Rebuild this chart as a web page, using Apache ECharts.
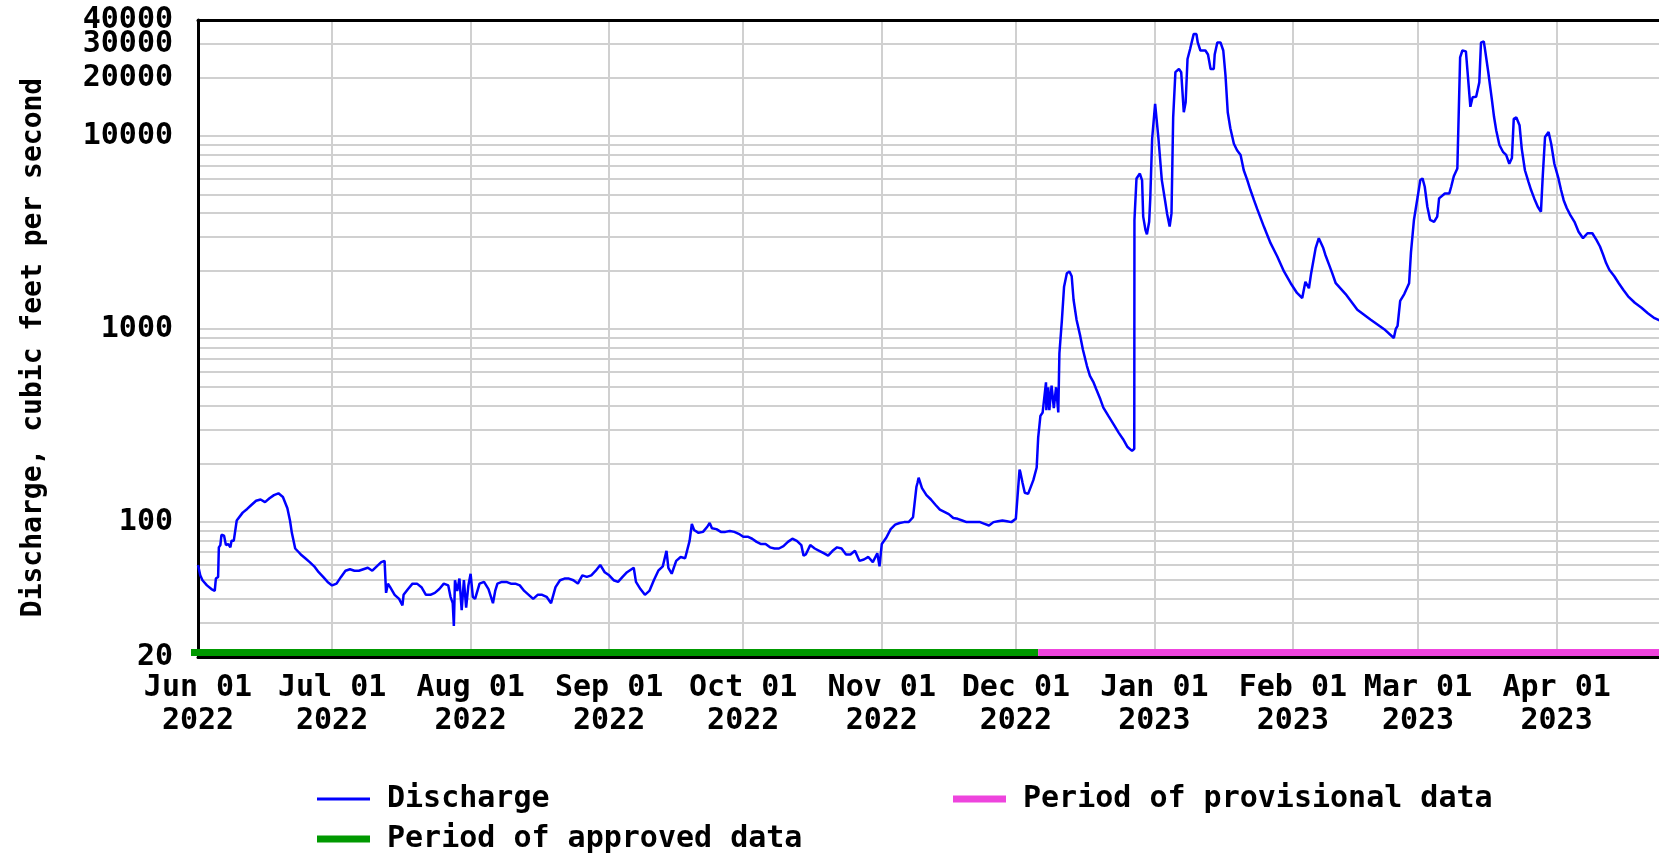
<!DOCTYPE html>
<html><head><meta charset="utf-8">
<script src="https://cdn.jsdelivr.net/npm/echarts@6/dist/echarts.min.js"></script>
<style>html,body{margin:0;padding:0;background:#fff}#chart{width:1659px;height:853px}</style>
</head><body><div id="chart"></div>
<script>
const dates = [
'2022-06-01 00:00','2022-06-01 12:00','2022-06-02','2022-06-03','2022-06-04','2022-06-04 18:00','2022-06-05 00:00','2022-06-05 12:00','2022-06-05 16:00','2022-06-06 00:00',
'2022-06-06 06:00','2022-06-06 20:00','2022-06-07 06:00','2022-06-07 18:00','2022-06-08 06:00','2022-06-08 12:00','2022-06-09 00:00','2022-06-09 16:00','2022-06-10','2022-06-11',
'2022-06-12','2022-06-13','2022-06-14','2022-06-15','2022-06-16','2022-06-17','2022-06-18','2022-06-19','2022-06-20','2022-06-21',
'2022-06-21 14:00','2022-06-22','2022-06-22 18:00','2022-06-23 12:00','2022-06-24','2022-06-25','2022-06-26','2022-06-27','2022-06-28','2022-06-29',
'2022-06-30','2022-07-01','2022-07-02','2022-07-03','2022-07-04','2022-07-05','2022-07-06','2022-07-07','2022-07-08','2022-07-09',
'2022-07-10','2022-07-11','2022-07-12','2022-07-12 18:00','2022-07-13 02:00','2022-07-13 12:00','2022-07-14','2022-07-15','2022-07-16','2022-07-16 18:00',
'2022-07-17','2022-07-18','2022-07-19','2022-07-20','2022-07-21','2022-07-22','2022-07-23','2022-07-24','2022-07-25','2022-07-26',
'2022-07-27','2022-07-27 12:00','2022-07-28','2022-07-28 06:00','2022-07-28 12:00','2022-07-29','2022-07-29 12:00','2022-07-30','2022-07-30 12:00','2022-07-31',
'2022-07-31 12:00','2022-08-01','2022-08-01 12:00','2022-08-02','2022-08-03','2022-08-04','2022-08-05','2022-08-06','2022-08-06 12:00','2022-08-07',
'2022-08-08','2022-08-09','2022-08-10','2022-08-11','2022-08-12','2022-08-13','2022-08-14','2022-08-15','2022-08-16','2022-08-17',
'2022-08-18','2022-08-19','2022-08-20','2022-08-21','2022-08-22','2022-08-23','2022-08-24','2022-08-25','2022-08-26','2022-08-27',
'2022-08-28','2022-08-29','2022-08-30','2022-08-31','2022-09-01','2022-09-02','2022-09-03','2022-09-04','2022-09-05','2022-09-06 12:00',
'2022-09-07','2022-09-08','2022-09-09','2022-09-10','2022-09-11','2022-09-12','2022-09-13','2022-09-13 20:00','2022-09-14 06:00','2022-09-15',
'2022-09-16','2022-09-17','2022-09-18','2022-09-19','2022-09-19 12:00','2022-09-20','2022-09-21','2022-09-22','2022-09-23','2022-09-23 12:00',
'2022-09-24','2022-09-25','2022-09-26','2022-09-27','2022-09-28','2022-09-29','2022-09-30','2022-10-01','2022-10-02','2022-10-03',
'2022-10-04','2022-10-05','2022-10-06','2022-10-07','2022-10-08','2022-10-09','2022-10-10','2022-10-11','2022-10-12','2022-10-13',
'2022-10-14','2022-10-14 12:00','2022-10-15','2022-10-16','2022-10-17','2022-10-18','2022-10-19','2022-10-20','2022-10-21','2022-10-22',
'2022-10-23','2022-10-24','2022-10-25','2022-10-26','2022-10-27','2022-10-28','2022-10-29','2022-10-30','2022-10-31','2022-10-31 12:00',
'2022-11-01','2022-11-02','2022-11-03','2022-11-04','2022-11-05','2022-11-06','2022-11-07','2022-11-08','2022-11-08 18:00','2022-11-09',
'2022-11-09 06:00','2022-11-10','2022-11-11','2022-11-12','2022-11-13','2022-11-14','2022-11-15','2022-11-16','2022-11-17','2022-11-18',
'2022-11-19','2022-11-20','2022-11-21','2022-11-22','2022-11-23','2022-11-24','2022-11-25','2022-11-26','2022-11-27','2022-11-28',
'2022-11-29','2022-11-30','2022-12-01','2022-12-01 20:00','2022-12-02','2022-12-02 12:00','2022-12-03','2022-12-03 18:00','2022-12-04 22:00','2022-12-05 16:00',
'2022-12-06','2022-12-06 12:00','2022-12-07','2022-12-07 18:00','2022-12-07 20:00','2022-12-08 06:00','2022-12-08 12:00','2022-12-09','2022-12-09 12:00','2022-12-10',
'2022-12-10 12:00','2022-12-10 18:00','2022-12-11 07:00','2022-12-11 19:00','2022-12-12 10:00','2022-12-13','2022-12-13 12:00','2022-12-13 22:00','2022-12-14 14:00','2022-12-15 10:00',
'2022-12-16','2022-12-16 22:00','2022-12-17 14:00','2022-12-18 10:00','2022-12-19','2022-12-19 22:00','2022-12-20 14:00','2022-12-21 17:00','2022-12-22 22:00','2022-12-24',
'2022-12-25','2022-12-26','2022-12-27','2022-12-27 12:00','2022-12-27 13:00','2022-12-28','2022-12-28 18:00','2022-12-29 06:00','2022-12-29 12:00','2022-12-30',
'2022-12-30 08:00','2022-12-30 20:00','2022-12-31 02:00','2022-12-31 12:00','2023-01-01 04:00','2023-01-01 10:00','2023-01-01 22:00','2023-01-02 06:00','2023-01-02 16:00','2023-01-03 10:00',
'2023-01-03 20:00','2023-01-04 10:00','2023-01-04 20:00','2023-01-05 05:00','2023-01-05 17:00','2023-01-06 12:00','2023-01-07','2023-01-07 14:00','2023-01-08','2023-01-08 10:00',
'2023-01-09','2023-01-09 19:00','2023-01-10 10:00','2023-01-10 17:00','2023-01-11 07:00','2023-01-12 10:00','2023-01-13','2023-01-13 14:00','2023-01-14 07:00','2023-01-14 12:00',
'2023-01-15 02:00','2023-01-15 19:00','2023-01-16 10:00','2023-01-16 22:00','2023-01-17 10:00','2023-01-18','2023-01-18 19:00','2023-01-19 12:00','2023-01-20 07:00','2023-01-21',
'2023-01-21 19:00','2023-01-22 12:00','2023-01-23 07:00','2023-01-24','2023-01-25 12:00','2023-01-27','2023-01-28 12:00','2023-01-30','2023-01-31 12:00','2023-02-01 22:00',
'2023-02-03 02:00','2023-02-03 19:00','2023-02-04 14:00','2023-02-05 02:00','2023-02-06 02:00','2023-02-06 19:00','2023-02-07 19:00','2023-02-08 06:00','2023-02-09 02:00','2023-02-09 19:00',
'2023-02-10 14:00','2023-02-12 19:00','2023-02-15 10:00','2023-02-18 10:00','2023-02-21 10:00','2023-02-23 14:00','2023-02-24','2023-02-24 10:00','2023-02-25','2023-02-25 22:00',
'2023-02-27','2023-02-27 10:00','2023-02-28 02:00','2023-02-28 22:00','2023-03-01 12:00','2023-03-02','2023-03-02 12:00','2023-03-03 02:00','2023-03-03 17:00','2023-03-04 14:00',
'2023-03-05 07:00','2023-03-05 17:00','2023-03-07','2023-03-08','2023-03-08 10:00','2023-03-09','2023-03-09 19:00','2023-03-10 10:00','2023-03-10 22:00','2023-03-11 17:00',
'2023-03-12 02:00','2023-03-12 17:00','2023-03-13 05:00','2023-03-14','2023-03-14 17:00','2023-03-15 02:00','2023-03-15 17:00','2023-03-16','2023-03-16 17:00','2023-03-17 12:00',
'2023-03-18','2023-03-18 12:00','2023-03-19 05:00','2023-03-20','2023-03-20 17:00','2023-03-21 10:00','2023-03-22','2023-03-22 10:00','2023-03-23','2023-03-23 17:00',
'2023-03-24 05:00','2023-03-24 22:00','2023-03-25 17:00','2023-03-26 07:00','2023-03-27','2023-03-27 19:00','2023-03-28 12:00','2023-03-28 22:00','2023-03-29 10:00','2023-03-30 05:00',
'2023-03-30 19:00','2023-03-31 12:00','2023-04-01 10:00','2023-04-02','2023-04-02 14:00','2023-04-03 07:00','2023-04-04 02:00','2023-04-05','2023-04-05 22:00','2023-04-06 22:00',
'2023-04-07 22:00','2023-04-09','2023-04-09 22:00','2023-04-10 17:00','2023-04-11 10:00','2023-04-12 02:00','2023-04-12 19:00','2023-04-13 22:00','2023-04-14 22:00','2023-04-15 22:00',
'2023-04-17','2023-04-18 12:00','2023-04-20','2023-04-21 10:00','2023-04-22 22:00','2023-04-24 10:00'
];
const discharge = [
60,53,50,47,45,44,51,52,74,76,
86,85,76,77,74,80,80,102,104,112,
117,123,129,131,127,133,138,141,135,118,
102,88,73,70,68,65,62,59,55,52,
49,47,48,52,56,57,56,56,57,58,
56,59,62,63,43,48,46,42,40,37,
42,45,48,48,46,42,42,43,45,48,
47,41,38,29,50,44,51,35,50,36,
47,54,41,40,48,49,45,38,44,48,
49,49,48,48,47,44,42,40,42,42,
41,38,46,50,51,51,50,48,53,52,
53,56,60,55,53,50,49,52,55,58,
49,45,42,44,50,56,59,71,58,54,
63,66,65,80,98,91,88,89,95,99,
93,92,89,89,90,89,87,84,84,82,
79,77,77,74,73,73,75,79,82,80,
76,67,68,76,73,71,69,67,71,74,
73,68,68,71,63,64,66,62,69,59,
77,83,92,97,99,100,100,106,152,160,
170,150,138,131,123,116,113,110,105,104,
102,100,100,100,100,98,96,100,101,102,
101,100,104,187,182,160,142,140,165,192,
274,355,370,530,380,500,380,510,390,500,
370,750,1100,1660,1950,1990,1880,1420,1120,920,
784,644,572,528,488,433,392,355,320,291,
269,245,234,240,3680,6040,6400,5900,3830,3270,
3100,3600,4760,9700,14700,14700,9700,9500,5920,4600,
3980,3400,3980,12560,21460,22300,21460,13300,15000,25100,
28300,33800,33800,30600,27800,27800,26500,22300,22300,26500,
30600,30600,27800,20600,13300,11000,9140,8460,8000,6660,
5920,5260,4660,4200,3400,2790,2380,1990,1730,1540,
1450,1760,1630,1950,2630,2960,2630,2430,2160,1950,
1730,1520,1260,1120,1000,900,1000,1040,1400,1520,
1730,2500,3680,4850,5920,6040,5470,4310,3680,3600,
3830,4760,5050,5050,5470,6200,6800,25600,27800,27500,
21500,14200,15900,16000,19000,30500,31000,28000,21500,15600,
12600,10700,9000,8300,8000,7200,7700,12300,12500,11400,
8600,6660,5800,5260,4760,4310,4060,6280,9900,10500,
9140,7200,6040,5260,4660,4230,3900,3600,3200,2960,
3140,3140,2900,2680,2430,2200,2030,1880,1730,1600,
1480,1370,1290,1210,1140,1100
];
const monthTicks = ['2022-06-01','2022-07-01','2022-08-01','2022-09-01','2022-10-01','2022-11-01','2022-12-01','2023-01-01','2023-02-01','2023-03-01','2023-04-01'];
const monthNames = ['Jan','Feb','Mar','Apr','May','Jun','Jul','Aug','Sep','Oct','Nov','Dec'];
const yLabelValues = [20,100,1000,10000,20000,30000];
const yTopLabelValues = [40000];
const yGridValues = [20,30,40,50,60,70,80,90,100,200,300,400,500,600,700,800,900,1000,2000,3000,4000,5000,6000,7000,8000,9000,10000,20000,30000,40000];
const xRange = ['2022-06-01','2023-04-23 22:00'];
const yRange = [20,40000];
const approvedPeriod = ['2022-06-01','2022-12-06'];
const provisionalPeriod = ['2022-12-06','2023-04-24 10:00'];

function ts(s){
  const p = s.split(' ');
  const d = p[0].split('-').map(Number);
  const t = p[1] ? p[1].split(':').map(Number) : [0,0];
  return new Date(d[0], d[1]-1, d[2], t[0], t[1]).getTime();
}
const FONT = "'DejaVu Sans Mono', monospace";
const lineData = dates.map((d,i)=>[ts(d), discharge[i]]);
const xMin = ts(xRange[0]), xMax = ts(xRange[1]);
const tickTs = monthTicks.map(ts);

function periodSeries(name, period, color, extendLeft){
  return {
    name: name, type: 'custom', clip: false, z: 3, yAxisIndex: 0,
    itemStyle: {color: color},
    encode: {x: [0,1]},
    data: [[ts(period[0]), ts(period[1])]],
    renderItem: function(params, api){
      const s = api.coord([api.value(0), yRange[0]]);
      const e = api.coord([api.value(1), yRange[0]]);
      const x0 = s[0] - extendLeft;
      return {type:'rect', shape:{x:x0, y:s[1]-8, width:e[0]-x0, height:7}, style:{fill: color}};
    }
  };
}
const legendText = {fontFamily: FONT, fontSize: 30, fontWeight: 'bold', color: '#000', padding: [0,0,0,12]};
const yLabelStyle = {margin: 25, color: '#000', fontFamily: FONT, fontSize: 30, fontWeight: 'bold',
  showMinLabel: true, showMaxLabel: true, hideOverlap: false,
  formatter: function(v){ return String(Math.round(v)); }};

const chart = echarts.init(document.getElementById('chart'), null, {renderer:'canvas'});
chart.setOption({
  animation: false,
  backgroundColor: '#ffffff',
  grid: {left: 198, right: 0, top: 20, bottom: 196, containLabel: false, outerBoundsMode: 'none'},
  legend: [
    {left: 312, top: 779, itemWidth: 53, itemHeight: 3, selectedMode: false, textStyle: legendText,
     data: [{name: 'Discharge', icon: 'rect'}]},
    {left: 312, top: 819, itemWidth: 53, itemHeight: 7, selectedMode: false, textStyle: legendText,
     data: [{name: 'Period of approved data', icon: 'rect'}]},
    {left: 948, top: 779, itemWidth: 53, itemHeight: 7, selectedMode: false, textStyle: legendText,
     data: [{name: 'Period of provisional data', icon: 'rect'}]}
  ],
  xAxis: [{
    type: 'value', min: xMin, max: xMax,
    axisLine: {show: true, onZero: false, lineStyle: {color: '#000', width: 3}},
    axisTick: {show: false, customValues: tickTs},
    splitLine: {show: true, lineStyle: {color: '#d0d0d0', width: 2}},
    axisLabel: {
      customValues: tickTs, margin: 15, color: '#000', fontFamily: FONT, fontSize: 30, fontWeight: 'bold', lineHeight: 33,
      showMinLabel: true, showMaxLabel: true, hideOverlap: false,
      formatter: function(v){ const d = new Date(v); return monthNames[d.getMonth()] + ' ' + String(d.getDate()).padStart(2,'0') + '\n' + d.getFullYear(); }
    }
  },{
    type: 'value', position: 'top', min: xMin, max: xMax,
    axisLine: {show: true, onZero: false, lineStyle: {color: '#000', width: 3}},
    axisTick: {show: false}, axisLabel: {show: false}, splitLine: {show: false}
  }],
  yAxis: [{
    type: 'log', logBase: 10, min: yRange[0], max: yRange[1],
    name: 'Discharge, cubic feet per second', nameLocation: 'middle', nameRotate: 90, nameGap: 150,
    nameTextStyle: {fontFamily: FONT, fontSize: 28, fontWeight: 'bold', color: '#000', padding: [0,18,0,0]},
    axisLine: {show: true, onZero: false, lineStyle: {color: '#000', width: 3}},
    axisTick: {show: false, customValues: yGridValues},
    splitLine: {show: true, lineStyle: {color: '#d0d0d0', width: 2}},
    axisLabel: Object.assign({customValues: yLabelValues}, yLabelStyle)
  },{
    type: 'log', logBase: 10, min: yRange[0], max: yRange[1], position: 'left', offset: 0,
    axisLine: {show: false}, axisTick: {show: false, customValues: yTopLabelValues}, splitLine: {show: false},
    axisLabel: Object.assign({customValues: yTopLabelValues}, yLabelStyle)
  }],
  series: [
    {name: 'Discharge', type: 'line', data: lineData, showSymbol: false, symbol: 'none', z: 4, yAxisIndex: 0,
     itemStyle: {color: '#0000ff'}, lineStyle: {color: '#0000ff', width: 2.5}},
    periodSeries('Period of approved data', approvedPeriod, '#009900', 7),
    periodSeries('Period of provisional data', provisionalPeriod, '#ee44dd', 0)
  ]
});
</script></body></html>
